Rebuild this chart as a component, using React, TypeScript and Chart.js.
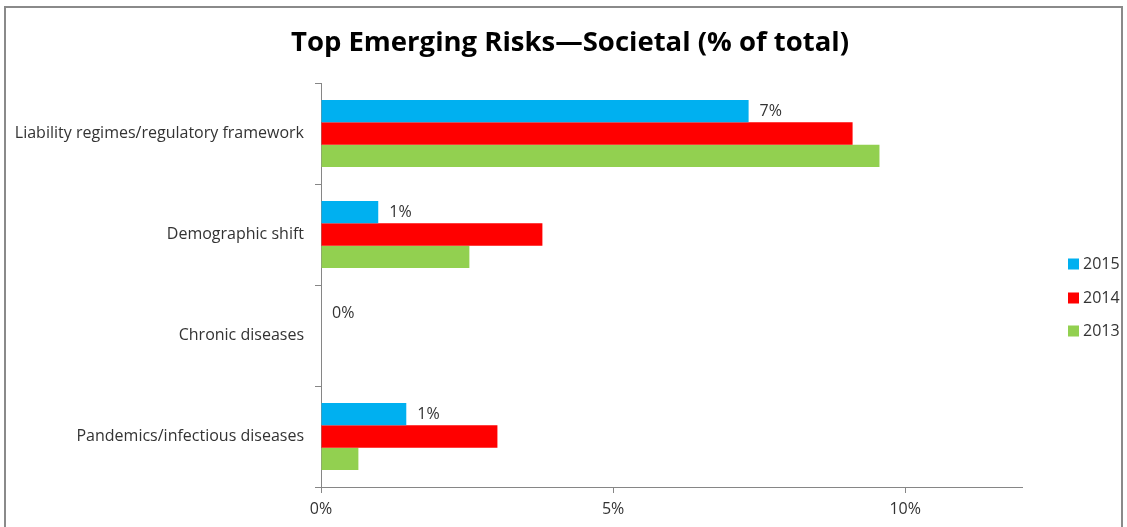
import React, { useEffect, useRef } from 'react';
import { Chart, registerables } from 'chart.js';

Chart.register(...registerables);

const categories = [
  'Liability regimes/regulatory framework',
  'Demographic shift',
  'Chronic diseases',
  'Pandemics/infectious diseases',
];
const seriesNames = ['2015', '2014', '2013'];
const values2015 = [7.32, 0.98, 0, 1.46];
const values2014 = [9.1, 3.79, 0, 3.02];
const values2013 = [9.56, 2.54, 0, 0.64];
const seriesColors = ['#00B0F0', '#FF0000', '#92D050'];
const xTickValues = [0, 5, 10];
const xMax = 12;
const titleText = 'Top Emerging Risks\u2014Societal (% of total)';

const FONT = '"Open Sans", Lato, sans-serif';
const TEXT = '#333333';
const AXIS = '#868686';

const framePlugin = {
  id: 'frame',
  beforeDraw(chart: any) {
    const ctx = chart.ctx;
    ctx.save();
    ctx.fillStyle = '#ffffff';
    ctx.fillRect(0, 0, chart.width, chart.height);
    ctx.strokeStyle = '#8a8a8a';
    ctx.lineWidth = 2;
    ctx.strokeRect(5, 7, 1117, 600);
    ctx.fillStyle = '#000000';
    ctx.font = `bold 27.5px ${FONT}`;
    ctx.textAlign = 'center';
    ctx.textBaseline = 'middle';
    ctx.fillText(titleText, 570, 43);
    ctx.restore();
  },
  afterDraw(chart: any) {
    const ctx = chart.ctx;
    ctx.save();
    ctx.font = `16px ${FONT}`;
    ctx.textBaseline = 'middle';
    ctx.textAlign = 'left';
    const ys = [264, 298, 331];
    chart.data.datasets.forEach((ds: any, i: number) => {
      ctx.fillStyle = ds.backgroundColor;
      ctx.fillRect(1068, ys[i] - 5.5, 11, 11);
      ctx.fillStyle = TEXT;
      ctx.fillText(ds.label, 1083, ys[i]);
    });
    // data labels for first series
    const meta = chart.getDatasetMeta(0);
    const ds = chart.data.datasets[0];
    meta.data.forEach((el: any, j: number) => {
      const v = ds.data[j];
      ctx.fillStyle = TEXT;
      ctx.fillText(`${Math.round(v)}%`, el.x + 11, el.y);
    });
    ctx.restore();
  },
};

export default function App() {
  const ref = useRef<HTMLCanvasElement | null>(null);
  useEffect(() => {
    if (!ref.current) return;
    const seriesValues = [values2015, values2014, values2013];
    const chart = new Chart(ref.current, {
      type: 'bar',
      data: {
        labels: categories,
        datasets: seriesNames.map((name, i) => ({
          label: name,
          data: seriesValues[i],
          backgroundColor: seriesColors[i],
          borderWidth: 0,
          categoryPercentage: 0.665,
          barPercentage: 1,
        })),
      },
      options: {
        indexAxis: 'y',
        animation: false,
        responsive: false,
        maintainAspectRatio: false,
        layout: { padding: { left: 0, right: 105, top: 83, bottom: 0 } },
        plugins: {
          legend: { display: false },
          title: { display: false },
          tooltip: { enabled: false },
        },
        scales: {
          x: {
            min: 0,
            max: xMax,
            afterBuildTicks: (scale: any) => {
              scale.ticks = xTickValues.map((v) => ({ value: v }));
            },
            afterFit: (scale: any) => {
              scale.height = 40;
            },
            grid: {
              drawOnChartArea: false,
              drawTicks: true,
              tickLength: 6,
              color: AXIS,
            },
            border: { color: AXIS, width: 1 },
            ticks: {
              padding: 7,
              color: TEXT,
              font: { family: FONT, size: 16 },
              callback: (v: any) => `${v}%`,
            },
          },
          y: {
            afterFit: (scale: any) => {
              scale.width = 321;
            },
            grid: {
              offset: true,
              drawOnChartArea: false,
              drawTicks: true,
              tickLength: 6,
              color: AXIS,
            },
            border: { color: AXIS, width: 1 },
            ticks: {
              padding: 11,
              color: TEXT,
              font: { family: FONT, size: 16 },
            },
          },
        },
      },
      plugins: [framePlugin],
    });
    return () => chart.destroy();
  }, []);
  return (
    <div style={{ position: 'absolute', left: 0, top: 0, width: 1127, height: 527 }}>
      <canvas ref={ref} width={1127} height={527} style={{ display: 'block' }} />
    </div>
  );
}
